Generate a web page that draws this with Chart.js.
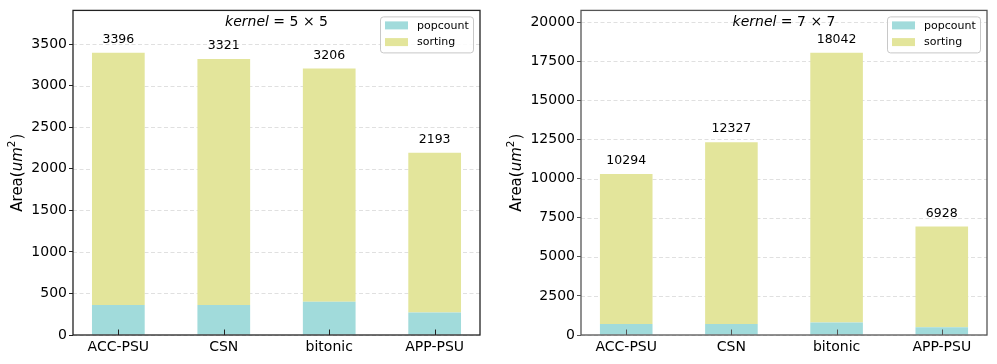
<!DOCTYPE html>
<html>
<head>
<meta charset="utf-8">
<script src="https://cdn.jsdelivr.net/npm/chart.js@4/dist/chart.umd.min.js"></script>
<style>
  body { margin: 0; background: #fff; width: 997px; height: 364px; position: relative; overflow: hidden; }
  canvas { position: absolute; top: 0; }
</style>
</head>
<body>
<canvas id="left" width="497" height="364" style="left:0px"></canvas>
<canvas id="right" width="497" height="364" style="left:500px"></canvas>
<script>
const categories = ["ACC-PSU", "CSN", "bitonic", "APP-PSU"];

// kernel = 5x5
const popcount5 = [360, 360, 400, 270];
const sorting5 = [3036, 2961, 2806, 1923];
const totals5 = [3396, 3321, 3206, 2193];
const yTicks5 = [0, 500, 1000, 1500, 2000, 2500, 3000, 3500];

// kernel = 7x7
const popcount7 = [700, 700, 800, 500];
const sorting7 = [9594, 11627, 17242, 6428];
const totals7 = [10294, 12327, 18042, 6928];
const yTicks7 = [0, 2500, 5000, 7500, 10000, 12500, 15000, 17500, 20000];

const FONT = "'DejaVu Sans', sans-serif";
const popColor = "rgb(161, 219, 219)";
const sortColor = "rgb(227, 229, 155)";

// draws grid, frame, inward x ticks, bar totals, legend, annotation and y title
const decorPlugin = {
  id: "decor",
  beforeDatasetsDraw(chart) {
    const ctx = chart.ctx, a = chart.chartArea, y = chart.scales.y;
    ctx.save();
    ctx.strokeStyle = "#e0e0e0";
    ctx.lineWidth = 1;
    ctx.setLineDash([4, 2.5]);
    y.ticks.forEach(t => {
      const py = Math.round(y.getPixelForValue(t.value)) + 0.5;
      ctx.beginPath();
      ctx.moveTo(a.left, py);
      ctx.lineTo(a.right, py);
      ctx.stroke();
    });
    ctx.restore();
  },
  afterDraw(chart, args, opts) {
    const ctx = chart.ctx, a = chart.chartArea, x = chart.scales.x;
    ctx.save();
    // x ticks pointing inward
    ctx.strokeStyle = opts.frame;
    ctx.lineWidth = 1;
    x.ticks.forEach(t => {
      const px = Math.round(x.getPixelForValue(t.value)) + 0.5;
      ctx.beginPath();
      ctx.moveTo(px, a.bottom);
      ctx.lineTo(px, a.bottom - 5.5);
      ctx.stroke();
    });
    // frame
    ctx.lineWidth = 1.3;
    ctx.strokeRect(a.left, a.top, a.right - a.left, a.bottom - a.top);

    // totals above bars
    const meta = chart.getDatasetMeta(1);
    ctx.fillStyle = "#000";
    ctx.font = "12.5px " + FONT;
    ctx.textAlign = "center";
    ctx.textBaseline = "middle";
    meta.data.forEach((el, i) => {
      ctx.fillText(String(opts.totals[i]), el.x, el.y - 13);
    });

    // kernel annotation
    ctx.textAlign = "left";
    ctx.font = "italic 14px " + FONT;
    const w1 = ctx.measureText("kernel").width;
    ctx.font = "14px " + FONT;
    const rest = " = " + opts.kernel;
    const w2 = ctx.measureText(rest).width;
    const cx = (a.left + a.right) / 2;
    let sx = cx - (w1 + w2) / 2;
    ctx.font = "italic 14px " + FONT;
    ctx.fillText("kernel", sx, 22);
    ctx.font = "14px " + FONT;
    ctx.fillText(rest, sx + w1, 22);

    // legend
    const bw = 93, bh = 36;
    const bx = a.right - 7 - bw, by = a.top + 6;
    ctx.strokeStyle = "#c8c8c8";
    ctx.lineWidth = 1;
    ctx.fillStyle = "rgba(255,255,255,0.85)";
    ctx.beginPath();
    ctx.roundRect(bx + 0.5, by + 0.5, bw, bh, 3);
    ctx.fill();
    ctx.stroke();
    ctx.font = "11px " + FONT;
    chart.data.datasets.forEach((ds, i) => {
      const ry = by + 5 + i * 16.7;
      ctx.fillStyle = ds.backgroundColor;
      ctx.fillRect(bx + 5, ry, 23, 8);
      ctx.fillStyle = "#000";
      ctx.fillText(ds.label, bx + 37, ry + 4.5);
    });

    // y title: Area(um^2)
    ctx.translate(opts.titleX, (a.top + a.bottom) / 2);
    ctx.rotate(-Math.PI / 2);
    ctx.fillStyle = "#000";
    const parts = [
      { t: "Area(", f: "15px " + FONT, dy: 0 },
      { t: "um", f: "italic 15px " + FONT, dy: 0 },
      { t: "2", f: "10.5px " + FONT, dy: -6 },
      { t: ")", f: "15px " + FONT, dy: 0 }
    ];
    let total = 0;
    parts.forEach(p => { ctx.font = p.f; p.w = ctx.measureText(p.t).width; total += p.w; });
    total += 1;
    let px = -total / 2;
    parts.forEach(p => {
      ctx.font = p.f;
      ctx.fillText(p.t, px, p.dy);
      px += p.w + (p.t === "2" ? 1 : 0);
    });
    ctx.restore();
  }
};

function makeChart(id, pop, sort, totals, yTicks, kernel, yMax, yWidth, padRight, titleX, frame) {
  return new Chart(document.getElementById(id), {
    type: "bar",
    data: {
      datasets: [
        { label: "popcount", data: pop.map((v, i) => ({ x: i, y: v })), backgroundColor: popColor },
        { label: "sorting", data: sort.map((v, i) => ({ x: i, y: v })), backgroundColor: sortColor }
      ]
    },
    options: {
      responsive: false,
      animation: false,
      devicePixelRatio: 1,
      categoryPercentage: 1,
      barPercentage: 0.5,
      layout: { padding: { top: 10, right: padRight, bottom: 0, left: 0 } },
      plugins: {
        legend: { display: false },
        tooltip: { enabled: false },
        decor: { totals: totals, kernel: kernel, titleX: titleX, frame: frame }
      },
      scales: {
        x: {
          type: "linear",
          stacked: true,
          offset: false,
          min: -0.43,
          max: 3.43,
          afterBuildTicks: s => { s.ticks = categories.map((_, i) => ({ value: i })); },
          afterFit: s => { s.height = 29; },
          grid: { display: false, drawTicks: false, offset: false },
          border: { display: false },
          ticks: {
            padding: 4,
            color: "#000",
            font: { family: FONT, size: 14 },
            callback: v => categories[v]
          }
        },
        y: {
          stacked: true,
          min: 0,
          max: yMax,
          afterBuildTicks: s => { s.ticks = yTicks.map(v => ({ value: v })); },
          afterFit: s => { s.width = yWidth; },
          grid: { drawOnChartArea: false, drawTicks: true, tickLength: 4, tickColor: frame, tickWidth: 1 },
          border: { display: false },
          ticks: {
            padding: 2,
            color: "#000",
            font: { family: FONT, size: 14 },
            callback: v => String(v)
          }
        }
      }
    },
    plugins: [decorPlugin]
  });
}

makeChart("left", popcount5, sorting5, totals5, yTicks5, "5 \u00d7 5", 3905, 73, 17, 18, "#222");
makeChart("right", popcount7, sorting7, totals7, yTicks7, "7 \u00d7 7", 20748, 81, 10, 17, "#555");
</script>
</body>
</html>
